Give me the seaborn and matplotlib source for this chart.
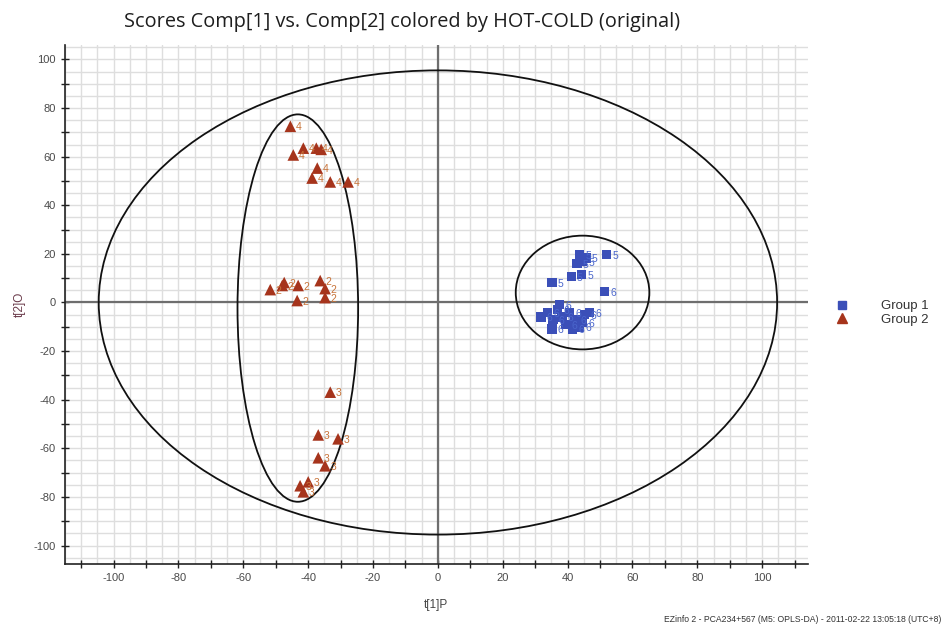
import matplotlib
matplotlib.use("Agg")
import matplotlib.pyplot as plt
from matplotlib.patches import Ellipse
from matplotlib.lines import Line2D
from matplotlib.ticker import MultipleLocator, FuncFormatter
import seaborn as sns
import pandas as pd

# ---------------- data ----------------
g2_x = [-45.5, -44.6, -41.5, -37.5, -36.0, -37.2, -38.8, -33.2, -27.7,
        -51.7, -48.0, -47.4, -43.1, -36.3, -34.8, -43.4, -34.8,
        -33.2, -36.9, -30.8, -36.9, -34.8, -40.0, -42.5, -41.5]
g2_y = [72.5, 60.7, 63.5, 63.5, 63.0, 55.3, 51.2, 49.6, 49.6,
        5.3, 7.0, 8.2, 7.0, 9.0, 5.7, 0.8, 2.0,
        -36.9, -54.5, -56.1, -63.9, -67.2, -73.8, -75.4, -77.9]
g2_lab = ["4"] * 9 + ["2"] * 8 + ["3"] * 8

g1_x = [43.7, 45.8, 42.8, 44.6, 52.0, 35.1, 41.2, 44.3, 51.4,
        31.7, 33.8, 35.4, 35.1, 36.9, 38.2, 39.4, 40.6, 42.2, 43.7,
        45.2, 44.6, 37.5, 41.5, 46.8]
g1_y = [19.7, 18.4, 16.0, 16.8, 19.7, 8.2, 10.7, 11.5, 4.5,
        -6.1, -4.1, -7.0, -11.0, -2.9, -6.1, -9.0, -4.1, -7.0, -10.2,
        -4.9, -8.2, -0.8, -11.0, -4.1]
g1_lab = ["5"] * 8 + ["6"] + ["6"] * 15

groups = ["Group 1", "Group 2"]

# ellipses: (center x, center y, semi-axis x, semi-axis y)
ell_cx = [0.0, -43.2, 44.6]
ell_cy = [0.0, -2.3, 4.1]
ell_ax = [104.6, 18.6, 20.6]
ell_ay = [95.5, 79.7, 23.4]

title = "Scores Comp[1] vs. Comp[2] colored by HOT-COLD (original)"
xlabel = "t[1]P"
ylabel = "t[2]O"
footer = "EZinfo 2 - PCA234+567 (M5: OPLS-DA) - 2011-02-22 13:05:18 (UTC+8)"

# ---------------- build ----------------
df = pd.DataFrame({
    "t1": g1_x + g2_x,
    "t2": g1_y + g2_y,
    "lab": g1_lab + g2_lab,
    "group": [groups[0]] * len(g1_x) + [groups[1]] * len(g2_x),
})

sns.set_theme(style="white")
plt.rcParams["font.family"] = ["Liberation Sans", "DejaVu Sans"]
plt.rcParams["axes.unicode_minus"] = False

c1 = "#3b4fb8"
c2 = "#a6341c"
lab_c = {groups[0]: "#4a66cc", groups[1]: "#c8743a"}

fig = plt.figure(figsize=(9.46, 6.32), dpi=100)
ax = fig.add_axes([0.0687, 0.108, 0.785, 0.821])

ax.set_xlim(-115, 114)
ax.set_ylim(-107.5, 106)

# ticks every 10 (labels every 20), grid every 5
ax.xaxis.set_major_locator(MultipleLocator(10))
ax.yaxis.set_major_locator(MultipleLocator(10))
ax.xaxis.set_minor_locator(MultipleLocator(5))
ax.yaxis.set_minor_locator(MultipleLocator(5))
fmt = FuncFormatter(lambda v, p: f"{int(round(v))}" if round(v) % 20 == 0 else "")
ax.xaxis.set_major_formatter(fmt)
ax.yaxis.set_major_formatter(fmt)
ax.grid(which="both", color="#dedede", lw=1.0)
ax.set_axisbelow(True)

# zero lines
ax.axhline(0, color="#6e6e6e", lw=1.6, zorder=1)
ax.axvline(0, color="#6e6e6e", lw=1.6, zorder=1)

for cx, cy, a, b in zip(ell_cx, ell_cy, ell_ax, ell_ay):
    ax.add_patch(Ellipse((cx, cy), 2 * a, 2 * b, fill=False,
                         edgecolor="#111111", lw=1.3, zorder=2))

sns.scatterplot(data=df, x="t1", y="t2", hue="group", style="group",
                size="group", sizes={groups[0]: 48, groups[1]: 70},
                palette={groups[0]: c1, groups[1]: c2},
                markers={groups[0]: "s", groups[1]: "^"},
                linewidth=0, ax=ax, legend=False, zorder=3)

for _, r in df.iterrows():
    ax.annotate(r["lab"], (r["t1"], r["t2"]), xytext=(4, -3),
                textcoords="offset points", fontsize=7.5,
                color=lab_c[r["group"]], zorder=4)

for s in ["top", "right"]:
    ax.spines[s].set_visible(False)
for s in ["left", "bottom"]:
    ax.spines[s].set_color("#222222")
    ax.spines[s].set_linewidth(1.2)
ax.tick_params(which="major", direction="inout", length=6, width=1,
               color="#222222", labelsize=8, labelcolor="#4a4a4a",
               left=True, bottom=True)
ax.tick_params(which="minor", length=0)

ax.set_xlabel(xlabel, fontsize=8.5, color="#444444", labelpad=12)
ax.set_ylabel(ylabel, fontsize=8.5, color="#6a3a4a", labelpad=6)

fig.text(0.425, 0.965, title, ha="center", va="center", fontsize=14.3,
         color="#1e1e1e", family=["Open Sans", "DejaVu Sans"])
fig.text(0.995, 0.012, footer, ha="right", va="bottom", fontsize=6.2,
         color="#333333")

handles = [Line2D([], [], marker="s", color=c1, ls="", markersize=6),
           Line2D([], [], marker="^", color=c2, ls="", markersize=7.5)]
fig.legend(handles, groups, loc="center left", bbox_to_anchor=(0.864, 0.505),
           frameon=False, fontsize=9.5, handletextpad=1.9,
           labelspacing=0.1, labelcolor="#333333")

fig.savefig("out.png", dpi=100)
